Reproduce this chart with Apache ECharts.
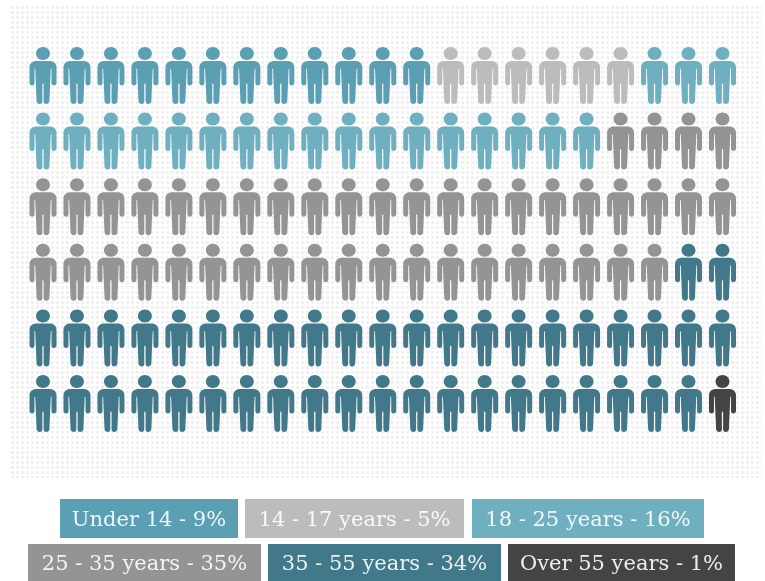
<!DOCTYPE html>
<html>
<head>
<meta charset="utf-8">
<style>html,body{margin:0;padding:0;background:#fff}#c{width:765px;height:581px;filter:blur(0.5px)}</style>
<script src="https://cdn.jsdelivr.net/npm/echarts@6/dist/echarts.min.js"></script>
</head>
<body>
<div id="c"></div>
<script>
const groups = ['Under 14','14 - 17 years','18 - 25 years','25 - 35 years','35 - 55 years','Over 55 years'];
const percents = [9,5,16,35,34,1];
const personCounts = [12,6,20,44,43,1];
const colors = ['#5a9fb4','#bcbcbc','#6fb0c0','#949494','#42798a','#444444'];
const columnsPerRow = 21;
const rowsCount = 6;
const legendRows = [[0,1,2],[3,4,5]];

const personPath = 'path://M13,0 C16.8,0 19.7,2.9 19.7,6.5 C19.7,10.1 16.8,13 13,13 C9.2,13 6.3,10.1 6.3,6.5 C6.3,2.9 9.2,0 13,0 Z ' +
 'M7,14 L19,14 C23.5,14 26,16.5 26,20.5 L26,36 C26,37.6 24.8,38.5 23.4,38.5 C22,38.5 21.2,37.6 21.2,36 L21.2,22 C21.2,21.3 20.5,21.3 20.5,22 L19.2,54 C19.2,56 17.6,57 16,57 C14.6,57 13.6,56 13.6,54 L13.6,37 C13.6,36.2 12.4,36.2 12.4,37 L12.4,54 C12.4,56 11.4,57 10,57 C8.4,57 6.8,56 6.8,54 L5.5,22 C5.5,21.3 4.8,21.3 4.8,22 L4.8,36 C4.8,37.6 4,38.5 2.6,38.5 C1.2,38.5 0,37.6 0,36 L0,20.5 C0,16.5 2.5,14 7,14 Z';

const seriesData = groups.map(() => []);
let idx = 0;
personCounts.forEach((n, g) => {
  for (let i = 0; i < n; i++, idx++) {
    seriesData[g].push([idx % columnsPerRow, Math.floor(idx / columnsPerRow)]);
  }
});

const tile = document.createElement('canvas');
tile.width = 5; tile.height = 5;
const tc = tile.getContext('2d');
tc.fillStyle = '#fff'; tc.fillRect(0,0,5,5);
tc.fillStyle = '#f1f1f1'; tc.fillRect(1,1,3,3);

const legendGeom = [
  [[60,499,178,39],[245,499,219,39],[472,499,232,39]],
  [[28,544,233,37],[268,544,233,37],[508,544,227,37]]
];
const graphics = [{
  type:'rect', z:-1, silent:true,
  shape:{x:10,y:5,width:752,height:473},
  style:{fill:{image:tile,repeat:'repeat'}}
}];
legendRows.forEach((row, r) => row.forEach((g, c) => {
  const [x,y,w,h] = legendGeom[r][c];
  graphics.push({type:'rect',silent:true,shape:{x,y,width:w,height:h},style:{fill:colors[g]}});
  graphics.push({type:'text',silent:true,x:x+w/2,y:y+h/2+2,style:{
    text:groups[g]+' - '+percents[g]+'%',
    fill:'rgba(255,255,255,0.9)',font:'21px "DejaVu Serif"',align:'center',verticalAlign:'middle'}});
}));

const chart = echarts.init(document.getElementById('c'), null, {renderer:'canvas'});
chart.setOption({
  animation:false,
  backgroundColor:'#fff',
  grid:{left:43,top:75.5,width:679.5,height:328,containLabel:false},
  xAxis:{type:'value',min:0,max:columnsPerRow-1,show:false},
  yAxis:{type:'value',min:0,max:rowsCount-1,inverse:true,show:false},
  graphic:graphics,
  series:groups.map((g,i)=>({
    name:g,type:'scatter',symbol:personPath,symbolSize:[27,57],symbolKeepAspect:false,
    itemStyle:{color:colors[i],opacity:1},data:seriesData[i],silent:true
  }))
});
</script>
</body>
</html>
